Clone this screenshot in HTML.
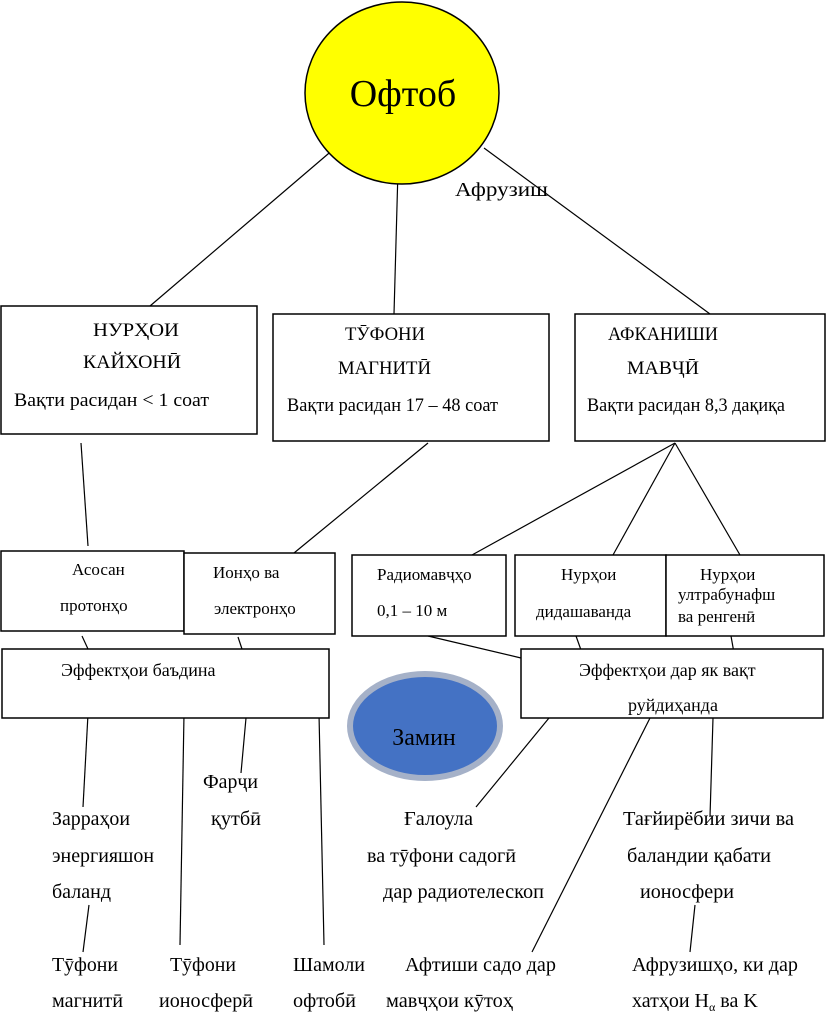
<!DOCTYPE html>
<html><head><meta charset="utf-8"><style>
html,body{margin:0;padding:0;background:#fff;}
svg{display:block;font-family:"Liberation Serif",serif;font-size:17px;}
text{fill:#000;}
</style></head><body>
<svg width="829" height="1024" viewBox="0 0 829 1024" xmlns="http://www.w3.org/2000/svg">
<g stroke="#000" stroke-width="1.2" fill="none">
<line x1="335" y1="148" x2="150" y2="306"/>
<line x1="398" y1="170" x2="394" y2="314"/>
<line x1="484" y1="148" x2="710" y2="314"/>
<line x1="81" y1="443" x2="88" y2="546"/>
<line x1="428" y1="443" x2="294" y2="553"/>
<line x1="675" y1="443" x2="472" y2="555"/>
<line x1="675" y1="443" x2="613" y2="555"/>
<line x1="675" y1="443" x2="740" y2="555"/>
<line x1="82" y1="636" x2="88" y2="649"/>
<line x1="238" y1="637" x2="242" y2="649"/>
<line x1="428" y1="636" x2="521" y2="658"/>
<line x1="576" y1="636" x2="581" y2="650"/>
<line x1="731" y1="636" x2="734" y2="653"/>
<line x1="88" y1="714" x2="83" y2="807"/>
<line x1="184" y1="714" x2="180" y2="945"/>
<line x1="246" y1="718" x2="241" y2="773"/>
<line x1="319" y1="714" x2="324" y2="945"/>
<line x1="549" y1="718" x2="476" y2="807"/>
<line x1="650" y1="718" x2="532" y2="952"/>
<line x1="713" y1="718" x2="710" y2="817"/>
<line x1="89" y1="905" x2="83" y2="952"/>
<line x1="695" y1="905" x2="690" y2="952"/>
</g>
<ellipse cx="402" cy="93" rx="97" ry="91" fill="#ffff00" stroke="#000" stroke-width="1.5"/>
<text x="403" y="106" text-anchor="middle" style="font-size:38px">Офтоб</text>
<text x="455" y="196" style="font-size:20px" textLength="93" lengthAdjust="spacingAndGlyphs">Афрузиш</text>

<g fill="#fff" stroke="#000" stroke-width="1.5">
<rect x="1" y="306" width="256" height="128"/>
<rect x="273" y="314" width="276" height="127"/>
<rect x="575" y="314" width="250" height="127"/>
<rect x="1" y="551" width="183" height="80"/>
<rect x="184" y="553" width="151" height="81"/>
<rect x="352" y="555" width="154" height="81"/>
<rect x="515" y="555" width="151" height="81"/>
<rect x="666" y="555" width="158" height="81"/>
<rect x="2" y="649" width="327" height="69"/>
<rect x="521" y="649" width="302" height="69"/>
</g>
<ellipse cx="425" cy="726" rx="75" ry="52" fill="#4472c4" stroke="#a5b1c8" stroke-width="6"/>
<text x="424" y="745" text-anchor="middle" style="font-size:24px">Замин</text>

<g style="font-size:19px">
<text x="93" y="336" textLength="86" lengthAdjust="spacingAndGlyphs">НУРҲОИ</text>
<text x="83" y="368" textLength="98" lengthAdjust="spacingAndGlyphs">КАЙХОНӢ</text>
<text x="14" y="406" textLength="195" lengthAdjust="spacingAndGlyphs">Вақти расидан &lt; 1 соат</text>
<text x="345" y="340" textLength="80" lengthAdjust="spacingAndGlyphs">ТӮФОНИ</text>
<text x="338" y="374" textLength="93" lengthAdjust="spacingAndGlyphs">МАГНИТӢ</text>
<text x="287" y="411" textLength="211" lengthAdjust="spacingAndGlyphs">Вақти расидан 17 – 48 соат</text>
<text x="608" y="340" textLength="110" lengthAdjust="spacingAndGlyphs">АФКАНИШИ</text>
<text x="627" y="374" textLength="72" lengthAdjust="spacingAndGlyphs">МАВҶӢ</text>
<text x="587" y="411" textLength="198" lengthAdjust="spacingAndGlyphs">Вақти расидан 8,3 дақиқа</text>
</g>

<text x="72" y="575">Асосан</text>
<text x="60" y="611">протонҳо</text>
<text x="213" y="578">Ионҳо ва</text>
<text x="214" y="614">электронҳо</text>
<text x="377" y="580">Радиомавҷҳо</text>
<text x="377" y="616">0,1 – 10 м</text>
<text x="561" y="580">Нурҳои</text>
<text x="536" y="617">дидашаванда</text>
<text x="700" y="580">Нурҳои</text>
<text x="678" y="600">ултрабунафш</text>
<text x="678" y="622">ва ренгенӣ</text>
<text x="61" y="676" style="font-size:18px">Эффектҳои баъдина</text>
<text x="579" y="676" style="font-size:18px">Эффектҳои дар як вақт</text>
<text x="628" y="711" style="font-size:18px">руйдиҳанда</text>

<g style="font-size:20px">
<text x="203" y="788" textLength="55" lengthAdjust="spacingAndGlyphs">Фарҷи</text>
<text x="211" y="825" textLength="50" lengthAdjust="spacingAndGlyphs">қутбӣ</text>
<text x="52" y="825" textLength="78" lengthAdjust="spacingAndGlyphs">Зарраҳои</text>
<text x="52" y="862" textLength="102" lengthAdjust="spacingAndGlyphs">энергияшон</text>
<text x="52" y="898" textLength="59" lengthAdjust="spacingAndGlyphs">баланд</text>
<text x="404" y="825" textLength="69" lengthAdjust="spacingAndGlyphs">Ғалоула</text>
<text x="367" y="862" textLength="149" lengthAdjust="spacingAndGlyphs">ва тӯфони садогӣ</text>
<text x="383" y="898" textLength="161" lengthAdjust="spacingAndGlyphs">дар радиотелескоп</text>
<text x="623" y="825" textLength="171" lengthAdjust="spacingAndGlyphs">Тағйирёбии зичи ва</text>
<text x="627" y="862" textLength="144" lengthAdjust="spacingAndGlyphs">баландии қабати</text>
<text x="640" y="898" textLength="94" lengthAdjust="spacingAndGlyphs">ионосфери</text>
<text x="52" y="971" textLength="66" lengthAdjust="spacingAndGlyphs">Тӯфони</text>
<text x="52" y="1007" textLength="71" lengthAdjust="spacingAndGlyphs">магнитӣ</text>
<text x="170" y="971" textLength="66" lengthAdjust="spacingAndGlyphs">Тӯфони</text>
<text x="159" y="1007" textLength="94" lengthAdjust="spacingAndGlyphs">ионосферӣ</text>
<text x="293" y="971" textLength="72" lengthAdjust="spacingAndGlyphs">Шамоли</text>
<text x="293" y="1007" textLength="63" lengthAdjust="spacingAndGlyphs">офтобӣ</text>
<text x="405" y="971" textLength="151" lengthAdjust="spacingAndGlyphs">Афтиши садо дар</text>
<text x="386" y="1007" textLength="127" lengthAdjust="spacingAndGlyphs">мавҷҳои кӯтоҳ</text>
<text x="632" y="971" textLength="166" lengthAdjust="spacingAndGlyphs">Афрузишҳо, ки дар</text>
<text x="632" y="1007">хатҳои H<tspan style="font-size:12px" dy="4">α</tspan><tspan dy="-4"> ва K</tspan></text>
</g>
</svg>
</body></html>
